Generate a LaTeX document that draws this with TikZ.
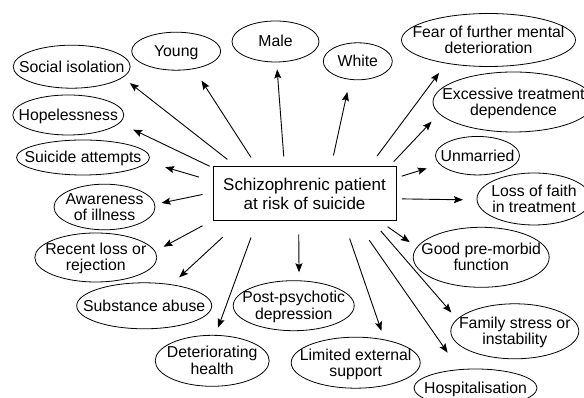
\documentclass[tikz,border=0pt]{standalone}
\usepackage{fontspec}
\setmainfont{Liberation Sans}
\usetikzlibrary{shapes.geometric,arrows.meta}

\newcommand{\ellfont}{\fontsize{15.8}{16}\selectfont}
\newcommand{\boxfont}{\fontsize{17}{18.5}\selectfont}
% text of zero width, so the ellipse keeps its own size
\newcommand{\inell}[1]{\makebox[0pt]{\raisebox{-2pt}[\height][\depth]{\begin{tabular}{@{}c@{}}#1\end{tabular}}}}

\begin{document}
\begin{tikzpicture}[x=1pt, y=1pt,
    arr/.style={-{Stealth[length=9pt,width=7pt,inset=1.5pt]}, line width=0.9pt}]
    \useasboundingbox (0,0) rectangle (584,398);
    \clip (0,0) rectangle (584,398);

    \node[draw, line width=1pt, minimum width=183pt, minimum height=54pt, inner sep=0pt,
        align=center, font=\boxfont] (pat) at (304.5,204) {Schizophrenic patient\\at risk of suicide};

    \begin{scope}[
            every node/.style={ellipse, draw, line width=0.8pt, inner sep=0pt, font=\ellfont}
        ]
        \node[minimum width=117pt, minimum height=43pt] (soc) at (71.7,331.3) {\inell{Social isolation}};
        \node[minimum width=89pt, minimum height=38pt] (young) at (176.2,346.8) {\inell{Young}};
        \node[minimum width=87pt, minimum height=41pt] (male) at (275.5,356.5) {\inell{Male}};
        \node[minimum width=69pt, minimum height=37pt] (white) at (357.8,336.7) {\inell{White}};
        \node[minimum width=174pt, minimum height=53pt] (fear) at (488.5,358) {\inell{Fear of further mental\\deterioration}};
        \node[minimum width=161pt, minimum height=60pt] (excess) at (513.5,296) {\inell{Excessive treatment\\dependence}};
        \node[minimum width=84pt, minimum height=38.5pt] (unmar) at (477.5,242.3) {\inell{Unmarried}};
        \node[minimum width=114pt, minimum height=52pt] (faith) at (534,199) {\inell{Loss of faith\\in treatment}};
        \node[minimum width=136pt, minimum height=60pt] (good) at (481.2,140.7) {\inell{Good pre-morbid\\function}};
        \node[minimum width=128pt, minimum height=55pt] (family) at (514.8,66.7) {\inell{Family stress or\\instability}};
        \node[minimum width=123pt, minimum height=38pt] (hosp) at (475.5,10) {\inell{Hospitalisation}};
        \node[minimum width=129pt, minimum height=51pt] (limit) at (355.7,35.3) {\inell{Limited external\\support}};
        \node[minimum width=121pt, minimum height=50pt] (post) at (293.7,92.3) {\inell{Post-psychotic\\depression}};
        \node[minimum width=114pt, minimum height=51pt] (health) at (212.2,37.2) {\inell{Deteriorating\\health}};
        \node[minimum width=135pt, minimum height=46pt] (subst) at (144.2,92.2) {\inell{Substance abuse}};
        \node[minimum width=122pt, minimum height=49pt] (loss) at (95.8,140.5) {\inell{Recent loss or\\rejection}};
        \node[minimum width=101pt, minimum height=42pt] (aware) at (104.5,191) {\inell{Awareness\\of illness}};
        \node[minimum width=133pt, minimum height=35pt] (suic) at (83,240.5) {\inell{Suicide attempts}};
        \node[minimum width=111pt, minimum height=40pt] (hope) at (68.3,283) {\inell{Hopelessness}};
    \end{scope}

    % upper half
    \draw (pat.158) edge[arr, shorten <=11.5pt, shorten >=8.9pt] (soc.-12);
    \draw (pat.150) edge[arr, shorten <=10.8pt, shorten >=13.8pt] (young.-45);
    \draw (pat.126) edge[arr, shorten <=10pt, shorten >=7pt] (male.-87);
    \draw (pat.46) edge[arr, shorten <=11.3pt, shorten >=12.5pt] (white.-113);
    \draw (pat.23) edge[arr, shorten <=13pt, shorten >=11.7pt] (fear.-151);
    \draw (pat.18) edge[arr, shorten <=6.7pt, shorten >=10.7pt] (excess.-171);
    \draw (pat.10) edge[arr, shorten <=5.5pt, shorten >=13.4pt] (unmar.-167);
    \draw (pat.-3) edge[arr, shorten <=5.3pt, shorten >=13.7pt] (faith.181);
    \draw (pat.172) edge[arr, shorten <=14pt, shorten >=18.1pt] (suic.-4);
    \draw (pat.164) edge[arr, shorten <=3.1pt, shorten >=15pt] (hope.-9);
    \draw (pat.179) edge[arr, shorten <=10.2pt, shorten >=6.6pt] (aware.3);

    % lower half
    \draw (pat.-20) edge[arr, shorten <=9.1pt, shorten >=8.5pt] (good.171);
    \draw (pat.-22) edge[arr, shorten <=12.5pt, shorten >=8.6pt] (family.168);
    \draw (pat.-28) edge[arr, shorten <=22.8pt, shorten >=20.3pt] (hosp.131);
    \draw (pat.-35) edge[arr, shorten <=18pt, shorten >=9.1pt] (limit.39);
    \draw (pat.-102) edge[arr, shorten <=13pt, shorten >=8.1pt] (post.78);
    \draw (pat.-150) edge[arr, shorten <=17.1pt, shorten >=7.8pt] (health.83);
    \draw (pat.-157) edge[arr, shorten <=23pt, shorten >=10.3pt] (subst.38);
    \draw (pat.-164) edge[arr, shorten <=11.4pt, shorten >=9.5pt] (loss.6);
\end{tikzpicture}
\end{document}
